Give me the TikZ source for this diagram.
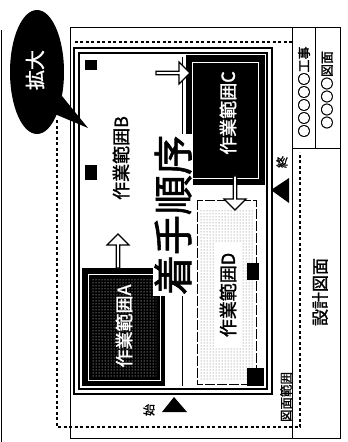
\documentclass[tikz,border=0pt]{standalone}
\usepackage{fontspec}
\newfontfamily\cjk{Noto Sans CJK JP}
\newfontfamily\cjkb{Noto Sans CJK JP}[FakeBold=1.5]
\usetikzlibrary{shapes.arrows,patterns}
\begin{document}
\begin{tikzpicture}[x=1pt,y=-1pt,
  frame/.style={draw=black,line width=1pt},
  dotline/.style={draw=black,line width=2.6pt,dash pattern=on 3pt off 2.5pt},
  area/.style={draw=black,line width=1pt},
  blockarrow/.style={single arrow,draw=black,fill=white,line width=1.2pt,
     minimum height=34pt,minimum width=22pt,single arrow head extend=3pt,inner sep=0pt},
  vtext/.style={rotate=90,inner sep=0pt},
  areatext/.style={vtext,font=\cjkb\fontsize{18}{18}\selectfont},
  cornermark/.style={fill=black,draw=none}]
\useasboundingbox (0,0) rectangle (348,442);
% page edge and outer frame
\draw[line width=1pt] (1,30) -- (1,442);
\draw[frame] (70,27) rectangle (340,438);
\draw[frame] (292,27) -- (292,438);
\draw[frame] (315,27) -- (315,148);
\draw[frame] (292,148) -- (340,148);
% dotted range
\draw[dotline] (292,42) -- (73,42);
\draw[dotline] (57,120) -- (57,427) -- (300,427) -- (300,152);
% double frame
\draw[line width=2pt] (74,48) rectangle (272,394);
\draw[line width=1.5pt] (79,53) rectangle (267,389);
% area A (black)
\fill[black] (82,268) rectangle (165,386);
\fill[pattern=dots,pattern color=white] (92,278) rectangle (156,376);
\draw[white,line width=1pt] (88,274) rectangle (160,380);
\node[areatext,text=white] (a) at (124,326) {作業範囲A};
% area C (black)
\fill[black] (186,55) rectangle (265,185);
\draw[white,line width=1pt] (192,62) rectangle (258,178);
\node[areatext,text=white] (c) at (228,113) {作業範囲C};
% area D
\draw[area,dash pattern=on 10pt off 2pt] (197,200) rectangle (256,384);
\fill[pattern=dots,pattern color=black!60] (200,210) rectangle (253,380);
\fill[white] (214,243) rectangle (242,347);
\node[areatext] (d) at (228,295) {作業範囲D};
% area B
\draw[line width=0.8pt] (182,57) -- (182,386);
\node[areatext] (b) at (121,158) {作業範囲B};
% corner marks
\fill[cornermark] (85,60) rectangle (97,70);
\fill[cornermark] (85,165) rectangle (97,180);
\fill[cornermark] (247,263) rectangle (259,280);
\fill[cornermark] (247,368) rectangle (264,386);
% order arrows
\node[blockarrow,rotate=90] (ab) at (118,252) {};
\node[blockarrow] (bc) at (172,73) {};
\node[blockarrow,rotate=-90] (cd) at (235,192) {};
% big title
\node[vtext,font=\cjkb\fontsize{40}{42}\selectfont,fill=white,inner sep=1pt] (order) at (173,215) {着手順序};
% triangles
\fill (162,412) -- (187,412) -- (174,397) -- cycle;
\fill (271,190) -- (289,178) -- (289,203) -- cycle;
\node[vtext,font=\cjkb\fontsize{12}{12}\selectfont] (start) at (149,410) {始};
\node[vtext,font=\cjkb\fontsize{12}{12}\selectfont] (end) at (282,162) {終};
% bubble
\fill (37,72) ellipse [x radius=27, y radius=62];
\fill (50,112) -- (88,128) -- (62,96) -- cycle;
\node[rotate=90,inner sep=0pt,text=white,font=\cjkb\fontsize{20}{20}\selectfont] (bubble) at (35,70) {拡大};
% title block
\node[vtext,font=\cjkb\fontsize{13}{13}\selectfont] (t1) at (304,92) {○○○○○工事};
\node[vtext,font=\cjkb\fontsize{13}{13}\selectfont] (t2) at (327,90) {○○○○図面};
\node[vtext,font=\cjkb\fontsize{17}{17}\selectfont] (t3) at (320,292) {設計図面};
\node[vtext,font=\cjkb\fontsize{12.5}{12.5}\selectfont] (t4) at (286,397) {図面範囲};
\end{tikzpicture}
\end{document}
